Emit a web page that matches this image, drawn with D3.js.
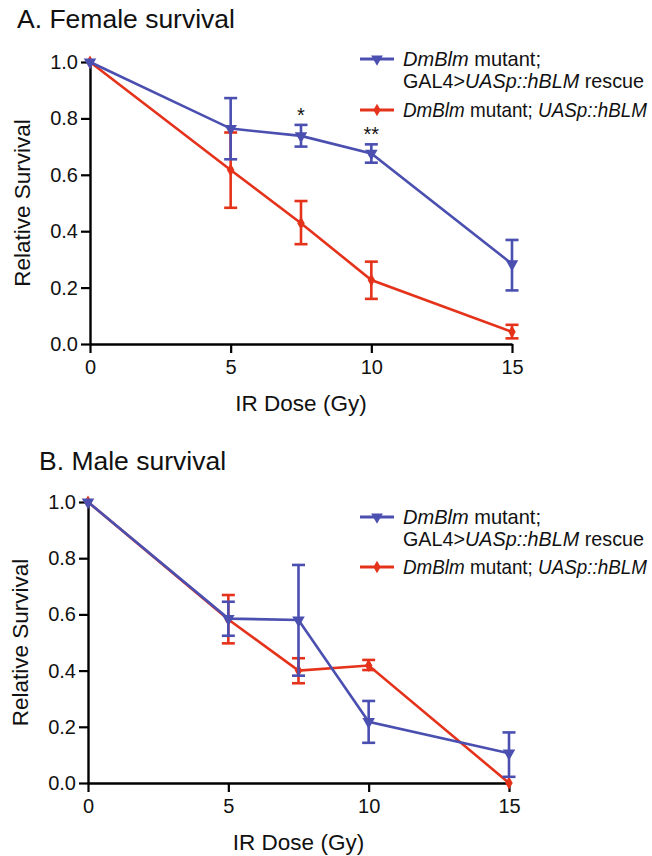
<!DOCTYPE html>
<html><head><meta charset="utf-8">
<script src="https://cdn.jsdelivr.net/npm/d3@7"></script>
<style>body{margin:0;background:#fff;} svg{display:block;font-family:"Liberation Sans",Arial,sans-serif;}</style>
</head><body><svg id="c" width="652" height="856"></svg>
<script>
const doses = [0, 5, 7.5, 10, 15];
const xTicks = [0, 5, 10, 15];
const yTicks = [0.0, 0.2, 0.4, 0.6, 0.8, 1.0];
// Panel A: female
const femaleRescue = [1.0, 0.764, 0.738, 0.676, 0.284];
const femaleRescueHi = [1.0, 0.872, 0.777, 0.708, 0.369];
const femaleRescueLo = [1.0, 0.655, 0.700, 0.643, 0.190];
const femaleMut = [1.0, 0.617, 0.428, 0.227, 0.043];
const femaleMutHi = [1.0, 0.750, 0.507, 0.292, 0.068];
const femaleMutLo = [1.0, 0.483, 0.354, 0.160, 0.020];
const femaleStars = [{x: 7.5, label: "*"}, {x: 10, label: "**"}];
// Panel B: male
const maleRescue = [1.0, 0.585, 0.580, 0.218, 0.106];
const maleRescueHi = [1.0, 0.645, 0.776, 0.292, 0.180];
const maleRescueLo = [1.0, 0.524, 0.382, 0.143, 0.022];
const maleMut = [1.0, 0.582, 0.400, 0.418, 0.0];
const maleMutHi = [1.0, 0.669, 0.444, 0.438, 0.0];
const maleMutLo = [1.0, 0.497, 0.355, 0.402, 0.0];

const BLUE = "#4a4fb0", RED = "#e5321b";
const svg = d3.select("#c");

function panel(cfg) {
  const g = svg.append("g");
  const x = d3.scaleLinear().domain([0, 15]).range([cfg.x0, cfg.x1]);
  const y = d3.scaleLinear().domain([0, 1]).range([cfg.y0, cfg.y1]);
  g.append("text").attr("x", cfg.tx).attr("y", cfg.ty).attr("font-size", 26.5).attr("fill", "#111").text(cfg.title);

  const xa = g.append("g").attr("transform", `translate(0,${cfg.y0})`)
    .call(d3.axisBottom(x).tickValues(xTicks).tickSize(9).tickPadding(7).tickSizeOuter(0).tickFormat(d3.format("d")));
  const ya = g.append("g").attr("transform", `translate(${cfg.x0},0)`)
    .call(d3.axisLeft(y).tickValues(yTicks).tickSize(9).tickPadding(3).tickSizeOuter(0).tickFormat(d3.format(".1f")));
  [xa, ya].forEach(a => {
    a.select(".domain").attr("stroke", "#000").attr("stroke-width", 2.4);
    a.selectAll(".tick line").attr("stroke", "#000").attr("stroke-width", 2.2);
    a.selectAll(".tick text").attr("font-size", 20).attr("fill", "#111").attr("font-family", "Liberation Sans, Arial, sans-serif");
  });
  g.append("text").attr("x", x(7.5)).attr("y", cfg.y0 + 67).attr("text-anchor", "middle").attr("font-size", 22.5).attr("fill", "#111").text("IR Dose (Gy)");
  g.append("text").attr("transform", `translate(${cfg.x0 - 60},${(cfg.y0 + cfg.y1) / 2}) rotate(-90)`).attr("text-anchor", "middle").attr("font-size", 22.5).attr("fill", "#111").text("Relative Survival");

  const line = d3.line().x(d => x(d.x)).y(d => y(d.v));
  function series(vals, hi, lo, color, sym, size) {
    const data = doses.map((d, i) => ({x: d, v: vals[i], hi: hi[i], lo: lo[i]}));
    const sg = g.append("g");
    sg.append("path").datum(data).attr("d", line).attr("fill", "none").attr("stroke", color).attr("stroke-width", 2.6);
    data.filter(d => d.hi !== d.lo).forEach(d => {
      const cx = x(d.x);
      sg.append("line").attr("x1", cx).attr("x2", cx).attr("y1", y(d.hi)).attr("y2", y(d.lo)).attr("stroke", color).attr("stroke-width", 2.6);
      [d.hi, d.lo].forEach(v => sg.append("line").attr("x1", cx - 6.5).attr("x2", cx + 6.5).attr("y1", y(v)).attr("y2", y(v)).attr("stroke", color).attr("stroke-width", 2.6));
    });
    sg.selectAll(".m").data(data).enter().append("path")
      .attr("transform", d => `translate(${x(d.x)},${y(d.v)})` + (sym === "tri" ? " rotate(180)" : ""))
      .attr("d", d3.symbol().type(sym === "tri" ? d3.symbolTriangle : d3.symbolDiamond).size(size)).attr("fill", color);
  }
  series(cfg.mut, cfg.mutHi, cfg.mutLo, RED, "dia", 48);
  series(cfg.res, cfg.resHi, cfg.resLo, BLUE, "tri", 68);

  (cfg.stars || []).forEach(s => {
    const i = doses.indexOf(s.x);
    g.append("text").attr("x", x(s.x)).attr("y", y(cfg.resHi[i]) - 3).attr("text-anchor", "middle").attr("font-size", 20).attr("fill", "#111").text(s.label);
  });

  // legend
  const L = g.append("g");
  const items = [
    {color: BLUE, sym: "tri", y: cfg.ly, lines: [[["DmBlm", true], [" mutant;", false]], [["GAL4>", false], ["UASp::hBLM", true], [" rescue", false]]], lens: [138, 241]},
    {color: RED, sym: "dia", y: cfg.ly + cfg.lgap, lines: [[["DmBlm", true], [" mutant; ", false], ["UASp::hBLM", true]]], lens: [244]}
  ];
  items.forEach(it => {
    L.append("line").attr("x1", 360).attr("x2", 394).attr("y1", it.y).attr("y2", it.y).attr("stroke", it.color).attr("stroke-width", 3);
    L.append("path").attr("transform", `translate(377,${it.y})` + (it.sym === "tri" ? " rotate(180)" : ""))
      .attr("d", d3.symbol().type(it.sym === "tri" ? d3.symbolTriangle : d3.symbolDiamond).size(it.sym === "tri" ? 60 : 45)).attr("fill", it.color);
    it.lines.forEach((ln, j) => {
      const t = L.append("text").attr("x", 403).attr("y", it.y + 6.5 + j * 22).attr("font-size", 19.8).attr("fill", "#111")
        .attr("textLength", it.lens[j]).attr("lengthAdjust", "spacingAndGlyphs");
      ln.forEach(([s, it2]) => t.append("tspan").attr("font-style", it2 ? "italic" : "normal").text(s));
    });
  });
}

panel({title: "A. Female survival", tx: 17, ty: 28, x0: 90, x1: 512, y0: 344, y1: 62, ly: 59, lgap: 51,
  res: femaleRescue, resHi: femaleRescueHi, resLo: femaleRescueLo,
  mut: femaleMut, mutHi: femaleMutHi, mutLo: femaleMutLo, stars: femaleStars});
panel({title: "B. Male survival", tx: 39, ty: 470, x0: 88, x1: 509, y0: 783, y1: 502, ly: 517, lgap: 50,
  res: maleRescue, resHi: maleRescueHi, resLo: maleRescueLo,
  mut: maleMut, mutHi: maleMutHi, mutLo: maleMutLo});
</script></body></html>
